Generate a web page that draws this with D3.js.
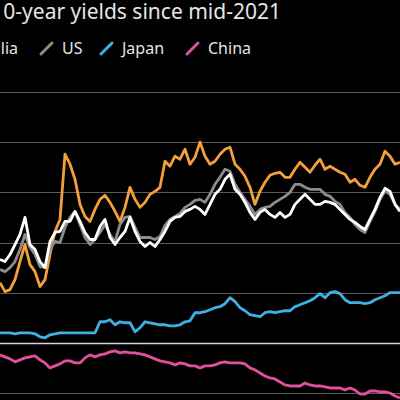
<!DOCTYPE html>
<html>
<head>
<meta charset="utf-8">
<script src="https://cdn.jsdelivr.net/npm/d3@7"></script>
<style>
  html, body { margin: 0; padding: 0; background: #000; }
  #chart { width: 400px; height: 400px; overflow: hidden; }
</style>
</head>
<body>
<div id="chart"></div>
<script>
// 10-year yields, % — sampled at regular intervals across the visible window
const nzYields = [
  1.20, 1.02, 1.06, 1.26, 1.62, 1.96, 1.56, 1.42, 1.12, 1.26,
  1.76, 2.22, 2.46, 3.76, 3.56, 3.26, 2.76, 2.52, 2.42, 2.66,
  2.86, 2.94, 2.80, 2.62, 2.42, 2.70, 3.10, 2.86, 2.70, 2.80,
  2.96, 3.02, 3.10, 3.62, 3.52, 3.72, 3.66, 3.86, 3.56, 3.70,
  4.00, 3.72, 3.56, 3.62, 3.76, 3.86, 3.90, 3.56, 3.46, 3.32,
  3.10, 2.76, 3.02, 3.20, 3.34, 3.38, 3.40, 3.30, 3.30, 3.46,
  3.60, 3.50, 3.40, 3.54, 3.66, 3.46, 3.52, 3.46, 3.40, 3.36,
  3.20, 3.26, 3.14, 3.10, 3.30, 3.46, 3.56, 3.82, 3.72, 3.56,
  3.60
];
const ausYields = [
  1.66, 1.62, 1.76, 1.96, 2.16, 2.50, 1.96, 1.86, 1.62, 1.50,
  2.02, 2.20, 2.22, 2.42, 2.42, 2.62, 2.42, 2.20, 2.06, 2.06,
  2.32, 2.46, 2.10, 1.96, 2.10, 2.22, 2.50, 2.22, 2.02, 1.92,
  2.00, 1.92, 2.06, 2.22, 2.42, 2.50, 2.52, 2.62, 2.66, 2.72,
  2.66, 2.56, 2.76, 2.96, 3.06, 3.26, 3.36, 3.06, 2.96, 2.80,
  2.60, 2.46, 2.60, 2.66, 2.56, 2.50, 2.60, 2.50, 2.56, 2.76,
  2.86, 2.96, 2.86, 2.76, 2.76, 2.82, 2.80, 2.76, 2.66, 2.56,
  2.46, 2.40, 2.32, 2.26, 2.46, 2.66, 2.90, 3.08, 3.02, 2.76,
  2.62
];
const usYields = [
  1.46, 1.42, 1.50, 1.62, 1.86, 2.16, 1.90, 1.76, 1.52, 1.50,
  1.86, 2.02, 2.00, 2.30, 2.50, 2.62, 2.36, 2.10, 1.96, 2.06,
  2.20, 2.36, 2.16, 2.02, 2.36, 2.50, 2.52, 2.30, 2.10, 2.10,
  2.10, 2.06, 2.12, 2.34, 2.46, 2.52, 2.58, 2.70, 2.76, 2.84,
  2.86, 2.80, 2.96, 3.16, 3.30, 3.46, 3.42, 3.16, 3.00, 2.86,
  2.72, 2.56, 2.66, 2.70, 2.72, 2.80, 2.86, 2.92, 3.00, 3.16,
  3.16, 3.10, 3.06, 3.06, 3.06, 2.96, 2.92, 2.82, 2.76, 2.60,
  2.50, 2.36, 2.26, 2.20, 2.42, 2.62, 2.86, 3.02, 2.96, 2.76,
  2.66
];
const japanYields = [
  0.20, 0.20, 0.20, 0.18, 0.20, 0.20, 0.20, 0.18, 0.12, 0.10,
  0.16, 0.18, 0.20, 0.20, 0.20, 0.20, 0.20, 0.20, 0.20, 0.20,
  0.42, 0.42, 0.46, 0.36, 0.42, 0.40, 0.40, 0.22, 0.30, 0.42,
  0.40, 0.38, 0.36, 0.36, 0.34, 0.34, 0.36, 0.42, 0.44, 0.60,
  0.60, 0.62, 0.66, 0.70, 0.72, 0.78, 0.90, 0.82, 0.70, 0.64,
  0.56, 0.54, 0.52, 0.60, 0.62, 0.60, 0.62, 0.64, 0.64, 0.72,
  0.76, 0.80, 0.84, 0.90, 0.98, 0.90, 1.00, 1.02, 0.98, 0.86,
  0.80, 0.80, 0.80, 0.78, 0.80, 0.86, 0.90, 0.94, 1.00, 1.00,
  1.00
];
const chinaYields = [
  -0.24, -0.28, -0.32, -0.38, -0.34, -0.30, -0.28, -0.26, -0.34, -0.40,
  -0.50, -0.46, -0.42, -0.36, -0.36, -0.40, -0.40, -0.30, -0.24, -0.28,
  -0.24, -0.22, -0.18, -0.16, -0.20, -0.18, -0.20, -0.20, -0.22, -0.24,
  -0.28, -0.32, -0.36, -0.38, -0.40, -0.44, -0.40, -0.42, -0.46, -0.46,
  -0.50, -0.46, -0.46, -0.44, -0.40, -0.38, -0.40, -0.40, -0.40, -0.42,
  -0.50, -0.54, -0.60, -0.66, -0.70, -0.72, -0.78, -0.84, -0.86, -0.86,
  -0.86, -0.80, -0.84, -0.86, -0.86, -0.88, -0.90, -0.90, -0.90, -0.94,
  -0.90, -0.94, -1.02, -1.02, -0.96, -0.96, -0.98, -0.98, -1.00, -1.06,
  -1.10
];
const gridTicks = [-1, 0, 1, 2, 3, 4, 5];

const seriesNames = ["New Zealand", "Australia", "US", "Japan", "China"];
const seriesColors = ["#f3a03a", "#ffffff", "#8c8c8c", "#3eb0e6", "#e0509f"];
const seriesValues = [nzYields, ausYields, usYields, japanYields, chinaYields];

const width = 400;
const height = 400;

const svg = d3.select("#chart").append("svg")
  .attr("width", width)
  .attr("height", height)
  .style("background", "#000");

const x = d3.scaleLinear()
  .domain([0, nzYields.length - 1])
  .range([0, 400]);

const y = d3.scaleLinear()
  .domain([-1, 5])
  .range([393, 92]);

// gridlines; zero is brighter
svg.append("g")
  .selectAll("line")
  .data(gridTicks)
  .join("line")
  .attr("x1", 0)
  .attr("x2", width)
  .attr("y1", d => Math.round(y(d)) + 0.5)
  .attr("y2", d => Math.round(y(d)) + 0.5)
  .attr("stroke", d => d === 0 ? "#d8d8d8" : "#5a5a5a")
  .attr("stroke-width", d => d === 0 ? 1.6 : 1.2);

const line = d3.line()
  .x((d, i) => x(i))
  .y(d => y(d));

// draw order: lower panel first, then NZ, US, Australia on top
const drawOrder = [3, 4, 0, 2, 1];
svg.append("g")
  .selectAll("path")
  .data(drawOrder)
  .join("path")
  .attr("d", i => line(seriesValues[i]))
  .attr("fill", "none")
  .attr("stroke", i => seriesColors[i])
  .attr("stroke-width", 2.8)
  .attr("stroke-linejoin", "round");

// title (left part is cropped off the frame, as in the source)
svg.append("text")
  .attr("x", 281)
  .attr("y", 19)
  .attr("text-anchor", "end")
  .attr("font-family", "Noto Sans, sans-serif")
  .attr("font-size", 21)
  .attr("fill", "#e6e6e6")
  .text("10-year yields since mid-2021");

// legend
const legendX = [-200, -70, 40, 100, 186];
const legend = svg.append("g")
  .selectAll("g")
  .data(seriesNames)
  .join("g")
  .attr("transform", (d, i) => `translate(${legendX[i]},0)`);

legend.append("line")
  .attr("x1", 1)
  .attr("y1", 54)
  .attr("x2", 12)
  .attr("y2", 43)
  .attr("stroke", (d, i) => seriesColors[i])
  .attr("stroke-width", 3)
  .attr("stroke-linecap", "round");

legend.append("text")
  .attr("x", 22)
  .attr("y", 54)
  .attr("font-family", "Noto Sans, sans-serif")
  .attr("font-size", 16)
  .attr("fill", "#e6e6e6")
  .text(d => d);
</script>
</body>
</html>
